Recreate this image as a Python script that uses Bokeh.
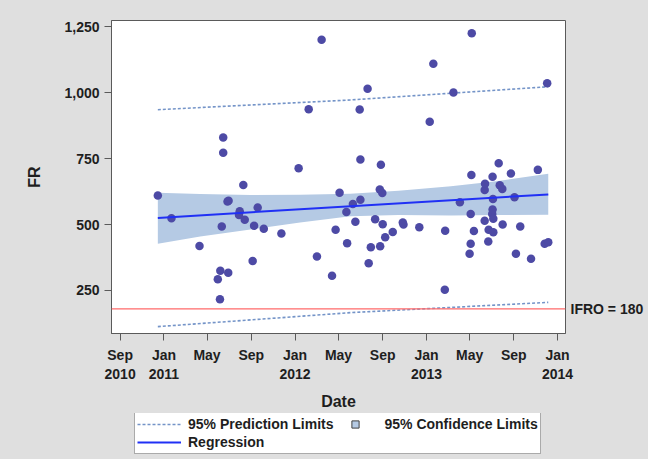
import pandas as pd
from bokeh.plotting import figure
from bokeh.layouts import column
from bokeh.models import (Range1d, FixedTicker, NumeralTickFormatter, Span, LinearAxis,
                          Legend, LegendItem, ColumnDataSource)
from bokeh.embed import file_html
from bokeh.resources import INLINE

# ---------------- data ----------------
dates = ["2010-12-15", "2011-01-22", "2011-04-10", "2011-05-31", "2011-06-06", "2011-06-07",
         "2011-06-11", "2011-06-15", "2011-06-15", "2011-06-27", "2011-06-29", "2011-06-30",
         "2011-07-29", "2011-07-31", "2011-08-10", "2011-08-14", "2011-09-05", "2011-09-09",
         "2011-09-19", "2011-10-06", "2011-11-24", "2012-01-11", "2012-02-08", "2012-03-02",
         "2012-03-15", "2012-04-13", "2012-04-23", "2012-05-04", "2012-05-23", "2012-05-25",
         "2012-06-10", "2012-06-17", "2012-06-29", "2012-07-01", "2012-07-01", "2012-07-21",
         "2012-07-24", "2012-07-30", "2012-08-11", "2012-08-24", "2012-08-25", "2012-08-27",
         "2012-08-31", "2012-09-01", "2012-09-08", "2012-09-29", "2012-10-27", "2012-10-29",
         "2012-12-12", "2013-01-10", "2013-01-20", "2013-02-21", "2013-02-22", "2013-03-17",
         "2013-04-04", "2013-05-01", "2013-05-04", "2013-05-04", "2013-05-06", "2013-05-07",
         "2013-05-13", "2013-06-12", "2013-06-12", "2013-06-13", "2013-06-22", "2013-06-23",
         "2013-07-03", "2013-07-04", "2013-07-04", "2013-07-05", "2013-07-06", "2013-07-06",
         "2013-07-21", "2013-07-24", "2013-07-31", "2013-08-01", "2013-08-24", "2013-09-03",
         "2013-09-07", "2013-09-19", "2013-10-19", "2013-11-07", "2013-11-26", "2013-12-03",
         "2013-12-06"]
fr = [610, 524, 419, 293, 217, 325,
      492, 830, 772, 587, 317, 590,
      536, 550, 650, 518, 362, 495,
      564, 484, 466, 713, 937, 379,
      1200, 306, 480, 620, 547, 429,
      578, 510, 936, 746, 594, 1014,
      353, 414, 520, 633, 418, 726,
      619, 501, 452, 472, 508, 500,
      490, 889, 1109, 253, 476, 1000,
      584, 389, 540, 427, 688, 1225,
      475, 631, 514, 654, 436, 480,
      540, 681, 557, 597, 522, 471,
      732, 649, 635, 500, 693, 603,
      389, 492, 370, 707, 427, 1035,
      433]

band_dates = ["2010-12-15", "2011-04-12", "2011-08-30", "2012-01-15", "2012-06-03",
              "2012-10-15", "2013-03-10", "2013-07-20", "2013-12-06"]
band_upper = [620, 616, 612, 613, 617, 628, 645, 665, 692]
band_lower = [427, 455, 481, 508, 531, 536, 534, 536, 537]

fit_dates = ["2010-12-15", "2013-12-06"]
fit_values = [525, 614]

pred_dates = ["2010-12-15", "2012-06-03", "2013-12-06"]
pred_upper = [935, 972, 1022]
pred_lower = [113, 166, 205]

ifro = 180
ifro_label = "IFRO = 180"

tick_dates = ["2010-09-01", "2011-01-01", "2011-05-01", "2011-09-01", "2012-01-01", "2012-05-01",
              "2012-09-01", "2013-01-01", "2013-05-01", "2013-09-01", "2014-01-01"]
tick_labels = ["Sep\n2010", "Jan\n2011", "May", "Sep", "Jan\n2012", "May",
               "Sep", "Jan\n2013", "May", "Sep", "Jan\n2014"]
y_ticks = [250, 500, 750, 1000, 1250]

legend_labels = ["95% Prediction Limits", "95% Confidence Limits", "Regression"]

# ---------------- styles ----------------
FONT = "Liberation Sans"
TXT = "#1e1e1e"
GRAY_BG = "#dfdfdf"
AXIS_COL = "#5a5a5a"
BAND_COL = "#b5cae4"
PRED_COL = "#7494c8"
REG_COL = "#2030f5"
PT_COL = "#4d4aa5"


def ms(s):
    return int(pd.Timestamp(s).value // 10**6)


# ---------------- main plot ----------------
p = figure(width=648, height=413, x_axis_type="datetime",
           output_backend="svg", toolbar_location=None,
           x_range=Range1d(pd.Timestamp("2010-08-08"), pd.Timestamp("2014-01-23")),
           y_range=Range1d(87, 1273),
           min_border_left=111, min_border_right=83,
           min_border_top=20, min_border_bottom=80)
p.border_fill_color = GRAY_BG
p.background_fill_color = "white"
p.outline_line_color = AXIS_COL
p.outline_line_width = 1
p.grid.visible = False

band_src = ColumnDataSource(dict(x=pd.to_datetime(band_dates), y1=band_lower, y2=band_upper))
p.varea(x="x", y1="y1", y2="y2", source=band_src, fill_color=BAND_COL, fill_alpha=1)

p.line(pd.to_datetime(pred_dates), pred_upper, line_color=PRED_COL, line_width=1.6, line_dash="3 2")
p.line(pd.to_datetime(pred_dates), pred_lower, line_color=PRED_COL, line_width=1.6, line_dash="3 2")

p.add_layout(Span(location=ifro, dimension="width", line_color="#ff6a6a", line_width=1.3))

pts = ColumnDataSource(dict(date=pd.to_datetime(dates), fr=fr))
p.scatter(x="date", y="fr", source=pts, size=8.5, fill_color=PT_COL, line_color=None)

p.line(pd.to_datetime(fit_dates), fit_values, line_color=REG_COL, line_width=2)

for ax in (p.xaxis[0], p.yaxis[0]):
    ax.axis_line_color = AXIS_COL
    ax.major_tick_line_color = AXIS_COL
    ax.major_tick_out = 7
    ax.major_tick_in = 0
    ax.minor_tick_out = 0
    ax.minor_tick_in = 0
    ax.major_label_text_font = FONT
    ax.major_label_text_font_size = "14px"
    ax.major_label_text_font_style = "bold"
    ax.major_label_text_color = TXT
    ax.axis_label_text_font = FONT
    ax.axis_label_text_font_size = "16px"
    ax.axis_label_text_font_style = "bold"
    ax.axis_label_text_color = TXT

p.yaxis.ticker = FixedTicker(ticks=y_ticks)
p.yaxis.formatter = NumeralTickFormatter(format="0,0")
p.yaxis.axis_label = "FR"
p.yaxis.major_label_standoff = 5
p.yaxis.axis_label_standoff = 18

tick_ms = [ms(d) for d in tick_dates]
p.xaxis.ticker = FixedTicker(ticks=tick_ms)
p.xaxis.major_label_overrides = {t: lab for t, lab in zip(tick_ms, tick_labels)}
p.xaxis.axis_label = "Date"
p.xaxis.major_label_standoff = 6
p.xaxis.axis_label_standoff = 8

# right-hand axis used only to carry the reference-line label
ax_r = LinearAxis(ticker=FixedTicker(ticks=[ifro]),
                  major_label_overrides={ifro: ifro_label},
                  axis_line_alpha=0, major_tick_out=0, major_tick_in=0,
                  minor_tick_out=0, minor_tick_in=0, major_label_standoff=5,
                  major_label_text_font=FONT, major_label_text_font_size="14px",
                  major_label_text_font_style="bold", major_label_text_color=TXT)
p.add_layout(ax_r, "right")

# ---------------- legend strip ----------------
lf = figure(width=648, height=46, output_backend="svg", toolbar_location=None,
            x_axis_type="datetime", x_axis_location=None, y_axis_location=None,
            x_range=Range1d(pd.Timestamp("2010-08-08"), pd.Timestamp("2014-01-23")),
            y_range=Range1d(-3, -1),
            min_border_left=0, min_border_right=0, min_border_top=0, min_border_bottom=0)
lf.border_fill_color = GRAY_BG
lf.background_fill_color = GRAY_BG
lf.outline_line_color = None
lf.grid.visible = False

# legend keys: same styles as in the plot (data lie outside this strip's range)
k_pred = lf.line(pd.to_datetime(pred_dates), pred_upper, line_color=PRED_COL,
                 line_width=1.6, line_dash="3 2")
k_conf = lf.scatter(pd.to_datetime(band_dates), band_upper, marker="square",
                    fill_color=BAND_COL, line_color="#404040", line_width=1)
k_reg = lf.line(pd.to_datetime(fit_dates), fit_values, line_color=REG_COL, line_width=2)

leg = Legend(items=[LegendItem(label=legend_labels[0], renderers=[k_pred]),
                    LegendItem(label=legend_labels[1], renderers=[k_conf]),
                    LegendItem(label=legend_labels[2], renderers=[k_reg])],
             location=(23, 5), orientation="horizontal", ncols=2,
             glyph_width=44, glyph_height=18, label_height=14,
             label_standoff=7, padding=2, spacing=0, margin=0,
             border_line_color="#555555", border_line_width=1,
             background_fill_color="white", background_fill_alpha=1,
             label_text_font=FONT, label_text_font_size="14px",
             label_text_font_style="bold", label_text_color=TXT)
lf.add_layout(leg, "center")

layout = column(p, lf, spacing=0, styles={"background-color": GRAY_BG})
open("out.html", "w").write(file_html(layout, INLINE))
